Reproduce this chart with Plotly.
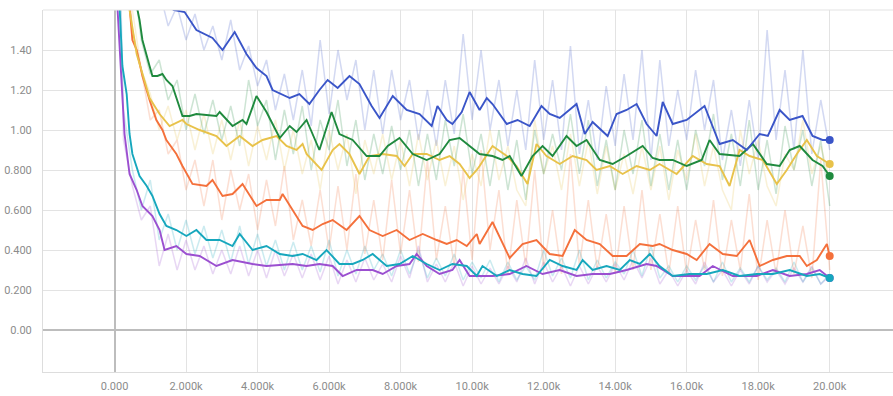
import plotly.graph_objects as go

# ---------------- data (steps in thousands) ----------------
raw_steps = [0.0, 0.25, 0.5, 0.75, 1.0, 1.25, 1.5, 1.75, 2.0, 2.25, 2.5, 2.75, 3.0, 3.25, 3.5, 3.75,
             4.0, 4.25, 4.5, 4.75, 5.0, 5.25, 5.5, 5.75, 6.0, 6.25, 6.5, 6.75, 7.0, 7.25, 7.5, 7.75,
             8.0, 8.25, 8.5, 8.75, 9.0, 9.25, 9.5, 9.75, 10.0, 10.25, 10.5, 10.75, 11.0, 11.25, 11.5, 11.75,
             12.0, 12.25, 12.5, 12.75, 13.0, 13.25, 13.5, 13.75, 14.0, 14.25, 14.5, 14.75, 15.0, 15.25, 15.5, 15.75,
             16.0, 16.25, 16.5, 16.75, 17.0, 17.25, 17.5, 17.75, 18.0, 18.25, 18.5, 18.75, 19.0, 19.25, 19.5, 19.75, 20.0]

blue_raw = [3.0, 2.4, 2.1, 1.95, 1.8, 1.7, 1.52, 1.62, 1.45, 1.58, 1.40, 1.52, 1.35, 1.55, 1.30, 1.42,
            1.22, 1.35, 1.10, 1.28, 1.05, 1.30, 1.02, 1.45, 1.08, 1.40, 1.15, 1.35, 1.00, 1.30, 0.98, 1.30,
            1.05, 1.25, 0.95, 1.20, 0.92, 1.25, 0.98, 1.48, 1.05, 1.40, 1.00, 1.25, 0.92, 1.20, 0.90, 1.35,
            0.95, 1.25, 0.90, 1.42, 0.88, 1.15, 0.85, 1.22, 0.92, 1.28, 0.95, 1.40, 0.85, 1.35, 0.92, 1.20,
            0.95, 1.30, 1.00, 1.25, 0.85, 1.10, 0.82, 1.15, 0.85, 1.50, 0.95, 1.30, 0.90, 1.40, 0.88, 1.15, 0.90]
green_raw = [3.0, 2.2, 1.8, 1.45, 1.28, 1.35, 1.15, 1.25, 1.00, 1.18, 0.98, 1.15, 0.95, 1.12, 0.92, 1.25,
             1.02, 1.15, 0.85, 1.10, 0.88, 1.12, 0.80, 1.05, 0.90, 1.15, 0.82, 1.05, 0.75, 0.98, 0.78, 1.02,
             0.80, 1.00, 0.72, 0.98, 0.75, 1.05, 0.82, 1.08, 0.78, 0.98, 0.72, 1.00, 0.70, 0.95, 0.65, 1.00,
             0.78, 0.98, 0.80, 1.08, 0.78, 1.05, 0.72, 0.95, 0.70, 1.00, 0.78, 1.05, 0.72, 0.98, 0.70, 0.95,
             0.70, 1.00, 0.82, 1.08, 0.75, 0.98, 0.72, 1.05, 0.70, 0.95, 0.68, 1.02, 0.80, 1.00, 0.72, 0.95, 0.62]
yellow_raw = [3.0, 2.0, 1.6, 1.3, 1.18, 1.00, 1.12, 0.95, 1.10, 0.90, 1.08, 0.88, 1.05, 0.85, 1.05, 0.82,
              1.02, 0.85, 1.05, 0.80, 1.00, 0.78, 0.95, 0.70, 1.00, 0.80, 0.98, 0.68, 0.95, 0.78, 0.98, 0.75,
              0.95, 0.72, 0.98, 0.75, 0.95, 0.72, 0.92, 0.65, 0.88, 0.72, 1.00, 0.75, 0.92, 0.70, 0.62, 1.05,
              0.78, 0.92, 0.70, 0.98, 0.72, 0.95, 0.68, 0.92, 0.70, 0.88, 0.68, 0.92, 0.70, 0.92, 0.65, 0.90,
              0.75, 0.98, 0.72, 0.92, 0.70, 0.60, 1.00, 0.78, 0.95, 0.72, 0.62, 0.88, 0.80, 1.05, 0.78, 0.92, 0.75]
orange_raw = [3.0, 2.1, 1.5, 1.3, 1.05, 1.10, 0.88, 0.95, 0.70, 0.85, 0.62, 0.85, 0.55, 0.80, 0.60, 0.78,
              0.50, 0.75, 0.52, 0.82, 0.45, 0.65, 0.42, 0.70, 0.40, 0.72, 0.40, 0.78, 0.38, 0.65, 0.35, 0.75,
              0.38, 0.70, 0.34, 0.85, 0.35, 0.62, 0.32, 0.80, 0.35, 0.90, 0.40, 0.70, 0.28, 0.65, 0.32, 0.80,
              0.30, 0.60, 0.28, 0.88, 0.32, 0.65, 0.30, 0.58, 0.28, 0.62, 0.30, 0.70, 0.30, 0.58, 0.28, 0.62,
              0.28, 0.55, 0.30, 0.65, 0.27, 0.55, 0.30, 0.68, 0.25, 0.55, 0.28, 0.60, 0.28, 0.52, 0.26, 0.85, 0.30]
teal_raw = [3.0, 1.1, 0.80, 0.60, 0.75, 0.45, 0.58, 0.40, 0.55, 0.38, 0.52, 0.36, 0.50, 0.34, 0.52, 0.33,
            0.48, 0.32, 0.45, 0.30, 0.44, 0.30, 0.42, 0.29, 0.45, 0.27, 0.40, 0.28, 0.42, 0.30, 0.38, 0.27,
            0.40, 0.28, 0.40, 0.26, 0.36, 0.27, 0.38, 0.25, 0.34, 0.26, 0.35, 0.24, 0.34, 0.25, 0.32, 0.25,
            0.40, 0.27, 0.36, 0.26, 0.40, 0.25, 0.35, 0.26, 0.34, 0.28, 0.40, 0.27, 0.42, 0.26, 0.32, 0.24,
            0.32, 0.25, 0.32, 0.24, 0.34, 0.24, 0.31, 0.24, 0.32, 0.25, 0.31, 0.24, 0.34, 0.24, 0.31, 0.23, 0.28]
purple_raw = [3.0, 0.95, 0.72, 0.55, 0.62, 0.32, 0.48, 0.30, 0.45, 0.30, 0.42, 0.28, 0.40, 0.28, 0.42, 0.27,
              0.40, 0.26, 0.40, 0.27, 0.38, 0.26, 0.38, 0.25, 0.37, 0.23, 0.35, 0.24, 0.36, 0.25, 0.33, 0.24,
              0.37, 0.26, 0.42, 0.24, 0.33, 0.24, 0.34, 0.22, 0.32, 0.23, 0.31, 0.23, 0.32, 0.24, 0.36, 0.23,
              0.34, 0.24, 0.32, 0.22, 0.32, 0.23, 0.32, 0.24, 0.33, 0.25, 0.35, 0.26, 0.36, 0.23, 0.30, 0.22,
              0.30, 0.23, 0.34, 0.24, 0.30, 0.22, 0.30, 0.23, 0.32, 0.24, 0.30, 0.23, 0.31, 0.24, 0.32, 0.23, 0.27]

blue_x = [0.0, 0.9, 1.65, 1.96, 2.29, 2.74, 3.02, 3.36, 3.69, 3.97, 4.25, 4.42, 4.90, 5.17, 5.45, 5.73, 5.96, 6.24,
          6.57, 6.85, 7.19, 7.41, 7.78, 8.17, 8.53, 8.87, 9.03, 9.29, 9.45, 9.71, 9.93, 10.21, 10.41, 10.57,
          10.97, 11.27, 11.61, 11.94, 12.17, 12.45, 12.92, 13.15, 13.37, 13.79, 14.04, 14.32, 14.60, 14.88,
          15.16, 15.33, 15.61, 16.00, 16.50, 16.92, 17.29, 17.68, 18.04, 18.27, 18.60, 18.88, 19.24, 19.52, 19.80, 20.0]
blue_y = [2.8, 2.0, 1.60, 1.59, 1.50, 1.46, 1.40, 1.49, 1.38, 1.31, 1.27, 1.20, 1.16, 1.18, 1.13, 1.20, 1.25, 1.21,
          1.27, 1.23, 1.12, 1.06, 1.17, 1.10, 1.08, 1.02, 1.12, 1.05, 1.03, 1.09, 1.19, 1.10, 1.16, 1.13,
          1.03, 1.05, 1.02, 1.12, 1.08, 1.06, 1.13, 0.98, 1.04, 0.97, 1.08, 1.10, 1.13, 1.03,
          0.97, 1.14, 1.03, 1.05, 1.12, 0.93, 0.95, 0.90, 0.98, 0.97, 1.10, 1.05, 1.07, 0.97, 0.95, 0.95]

green_x = [0.0, 0.62, 0.70, 0.78, 0.98, 1.06, 1.20, 1.34, 1.45, 1.62, 1.90, 2.10, 2.29, 2.85, 2.94, 3.30, 3.58, 3.69,
           3.97, 4.25, 4.62, 4.90, 5.09, 5.37, 5.73, 6.07, 6.29, 6.66, 7.05, 7.41, 7.64, 7.97, 8.34, 8.73, 9.09,
           9.37, 9.65, 9.93, 10.21, 10.57, 10.85, 11.05, 11.38, 11.69, 11.97, 12.25, 12.64, 12.92, 13.20, 13.57,
           13.93, 14.32, 14.77, 15.05, 15.24, 15.61, 16.00, 16.42, 16.64, 16.92, 17.48, 17.85, 18.24, 18.60,
           18.88, 19.16, 19.52, 19.80, 20.0]
green_y = [2.7, 1.62, 1.55, 1.45, 1.32, 1.27, 1.27, 1.28, 1.25, 1.22, 1.07, 1.07, 1.08, 1.07, 1.09, 1.02, 1.05, 1.03,
           1.17, 1.09, 0.96, 1.02, 0.99, 1.05, 0.90, 1.09, 0.98, 0.95, 0.87, 0.87, 0.92, 0.96, 0.88, 0.85, 0.88,
           0.95, 0.96, 0.92, 0.88, 0.87, 0.85, 0.87, 0.77, 0.87, 0.92, 0.87, 0.97, 0.92, 0.95, 0.85,
           0.83, 0.87, 0.92, 0.86, 0.85, 0.85, 0.82, 0.85, 0.95, 0.88, 0.87, 0.93, 0.83, 0.82,
           0.90, 0.92, 0.85, 0.82, 0.77]

yellow_x = [0.0, 0.42, 0.62, 0.98, 1.26, 1.54, 1.90, 2.01, 2.38, 2.85, 3.13, 3.50, 3.86, 4.14, 4.53, 4.81, 5.09, 5.26,
            5.37, 5.79, 6.10, 6.29, 6.57, 6.85, 7.13, 7.50, 7.89, 8.11, 8.34, 8.73, 9.09, 9.37, 9.65, 9.93, 10.13,
            10.21, 10.57, 10.97, 11.24, 11.55, 11.80, 12.08, 12.45, 12.81, 13.20, 13.48, 13.85, 14.21, 14.60,
            14.97, 15.24, 15.72, 16.17, 16.56, 16.92, 17.20, 17.48, 17.76, 18.13, 18.52, 18.80, 19.08, 19.36, 19.64, 20.0]
yellow_y = [2.4, 1.60, 1.38, 1.16, 1.08, 1.02, 1.05, 1.03, 1.00, 0.97, 0.92, 0.97, 0.92, 0.95, 0.97, 0.92, 0.90, 0.93,
            0.88, 0.80, 0.90, 0.93, 0.88, 0.78, 0.87, 0.88, 0.87, 0.82, 0.88, 0.88, 0.85, 0.87, 0.83, 0.76, 0.80,
            0.82, 0.92, 0.87, 0.82, 0.73, 0.93, 0.87, 0.83, 0.87, 0.85, 0.80, 0.82, 0.78, 0.82,
            0.80, 0.83, 0.78, 0.87, 0.83, 0.82, 0.72, 0.90, 0.87, 0.85, 0.73, 0.80, 0.88, 0.95, 0.87, 0.83]

orange_x = [0.0, 0.42, 0.50, 0.62, 0.78, 0.98, 1.17, 1.34, 1.45, 1.73, 1.90, 2.18, 2.57, 2.74, 3.02, 3.30, 3.58, 3.97,
            4.25, 4.62, 4.70, 4.98, 5.26, 5.54, 5.82, 6.10, 6.49, 6.85, 7.13, 7.50, 7.89, 8.25, 8.62, 9.01, 9.29,
            9.57, 9.85, 10.13, 10.21, 10.57, 10.85, 11.05, 11.41, 11.80, 12.17, 12.53, 12.87, 13.20, 13.57, 13.93,
            14.32, 14.69, 15.05, 15.24, 15.61, 16.00, 16.28, 16.64, 17.01, 17.40, 17.76, 18.04, 18.41, 18.80,
            19.16, 19.36, 19.64, 19.92, 20.0]
orange_y = [2.5, 1.62, 1.45, 1.40, 1.27, 1.15, 1.05, 1.00, 0.95, 0.88, 0.82, 0.73, 0.72, 0.75, 0.67, 0.68, 0.73, 0.62,
            0.65, 0.65, 0.68, 0.60, 0.52, 0.50, 0.53, 0.55, 0.50, 0.57, 0.50, 0.47, 0.50, 0.45, 0.48, 0.45, 0.43,
            0.45, 0.42, 0.48, 0.43, 0.54, 0.43, 0.36, 0.43, 0.45, 0.38, 0.37, 0.50, 0.45, 0.43, 0.37,
            0.37, 0.43, 0.42, 0.43, 0.40, 0.38, 0.35, 0.43, 0.38, 0.37, 0.45, 0.32, 0.35, 0.37,
            0.37, 0.32, 0.35, 0.43, 0.37]

teal_x = [0.0, 0.14, 0.22, 0.34, 0.42, 0.50, 0.70, 0.90, 1.06, 1.26, 1.45, 1.73, 2.01, 2.29, 2.57, 2.94, 3.30, 3.50,
          3.86, 4.25, 4.62, 4.98, 5.26, 5.65, 5.93, 6.29, 6.66, 6.94, 7.22, 7.61, 7.97, 8.34, 8.73, 9.09, 9.45,
          9.85, 10.13, 10.29, 10.69, 11.05, 11.41, 11.80, 12.17, 12.53, 12.92, 13.09, 13.37, 13.76, 14.13, 14.41,
          14.69, 14.97, 15.24, 15.61, 16.08, 16.56, 17.01, 17.48, 17.96, 18.41, 18.88, 19.36, 19.72, 20.0]
teal_y = [2.6, 1.62, 1.32, 1.18, 0.98, 0.88, 0.77, 0.72, 0.67, 0.58, 0.52, 0.50, 0.47, 0.50, 0.45, 0.45, 0.42, 0.48,
          0.40, 0.42, 0.38, 0.37, 0.38, 0.35, 0.40, 0.33, 0.33, 0.35, 0.38, 0.32, 0.33, 0.37, 0.33, 0.30, 0.33,
          0.32, 0.27, 0.32, 0.27, 0.30, 0.28, 0.27, 0.35, 0.32, 0.30, 0.35, 0.30, 0.32, 0.30, 0.35,
          0.33, 0.38, 0.32, 0.27, 0.28, 0.28, 0.30, 0.27, 0.28, 0.28, 0.30, 0.27, 0.28, 0.26]

purple_x = [0.0, 0.08, 0.20, 0.28, 0.42, 0.62, 0.78, 1.06, 1.26, 1.40, 1.73, 2.01, 2.38, 2.85, 3.30, 3.86, 4.25, 4.98,
            5.37, 5.73, 6.10, 6.38, 6.77, 7.22, 7.50, 7.89, 8.25, 8.45, 8.73, 9.09, 9.45, 9.65, 9.93, 10.57, 11.05,
            11.52, 11.97, 12.45, 12.92, 13.37, 13.85, 14.32, 14.88, 15.16, 15.61, 16.36, 16.73, 17.29, 17.96,
            18.41, 18.88, 19.36, 19.72, 20.0]
purple_y = [2.6, 1.62, 1.23, 0.98, 0.78, 0.70, 0.62, 0.57, 0.50, 0.40, 0.42, 0.38, 0.37, 0.32, 0.35, 0.33, 0.32, 0.33,
            0.32, 0.33, 0.32, 0.27, 0.30, 0.30, 0.28, 0.32, 0.33, 0.38, 0.32, 0.28, 0.30, 0.35, 0.27, 0.27, 0.28,
            0.32, 0.28, 0.30, 0.27, 0.28, 0.28, 0.30, 0.33, 0.32, 0.27, 0.27, 0.32, 0.27, 0.27,
            0.30, 0.27, 0.28, 0.30, 0.26]

x_tick_vals = [0, 2, 4, 6, 8, 10, 12, 14, 16, 18, 20]
x_tick_text = ["0.000", "2.000k", "4.000k", "6.000k", "8.000k", "10.00k", "12.00k", "14.00k", "16.00k", "18.00k", "20.00k"]
y_tick_vals = [0.0, 0.2, 0.4, 0.6, 0.8, 1.0, 1.2, 1.4]
y_tick_text = ["0.00", "0.200", "0.400", "0.600", "0.800", "1.00", "1.20", "1.40"]

# ---------------- styling ----------------
series = [
    ("purple", purple_raw, purple_x, purple_y, "#9b4fd0"),
    ("teal", teal_raw, teal_x, teal_y, "#16a7bd"),
    ("orange", orange_raw, orange_x, orange_y, "#f4703b"),
    ("yellow", yellow_raw, yellow_x, yellow_y, "#e8c24a"),
    ("green", green_raw, green_x, green_y, "#1f8a3e"),
    ("blue", blue_raw, blue_x, blue_y, "#3a55c8"),
]

fig = go.Figure()

for name, raw, sx, sy, col in series:
    fig.add_trace(go.Scatter(x=raw_steps, y=raw, mode="lines",
                             line=dict(color=col, width=1.5), opacity=0.22,
                             hoverinfo="skip", showlegend=False))

for name, raw, sx, sy, col in series:
    fig.add_trace(go.Scatter(x=sx, y=sy, mode="lines",
                             line=dict(color=col, width=1.9),
                             hoverinfo="skip", showlegend=False))
    fig.add_trace(go.Scatter(x=[sx[-1]], y=[sy[-1]], mode="markers",
                             marker=dict(color=col, size=8),
                             hoverinfo="skip", showlegend=False))

grid_col = "#e3e3e3"
fig.update_layout(
    width=893, height=396,
    margin=dict(l=43, r=0, t=10, b=24),
    paper_bgcolor="white", plot_bgcolor="white",
    showlegend=False,
    font=dict(family="Roboto, sans-serif", size=11, color="#8c8c8c"),
    xaxis=dict(range=[-2.0, 21.77], tickmode="array", tickvals=x_tick_vals, ticktext=x_tick_text,
               showgrid=True, gridcolor=grid_col, gridwidth=1,
               zeroline=True, zerolinecolor="#bdbdbd", zerolinewidth=2,
               showline=True, linecolor="#dddddd", linewidth=1, mirror=False,
               ticks="", ticklabelstandoff=4, fixedrange=True),
    yaxis=dict(range=[-0.21, 1.60], tickmode="array", tickvals=y_tick_vals, ticktext=y_tick_text,
               showgrid=True, gridcolor=grid_col, gridwidth=1,
               zeroline=True, zerolinecolor="#bdbdbd", zerolinewidth=2,
               showline=True, linecolor="#dddddd", linewidth=1,
               ticks="", ticklabelstandoff=8, fixedrange=True),
    shapes=[dict(type="line", xref="paper", yref="paper", x0=0, x1=1, y0=1, y1=1,
                 line=dict(color=grid_col, width=1))],
)

fig.write_html("out.html", config={"displayModeBar": False},
               post_script="document.body.style.margin='0';document.body.style.overflow='hidden';")
